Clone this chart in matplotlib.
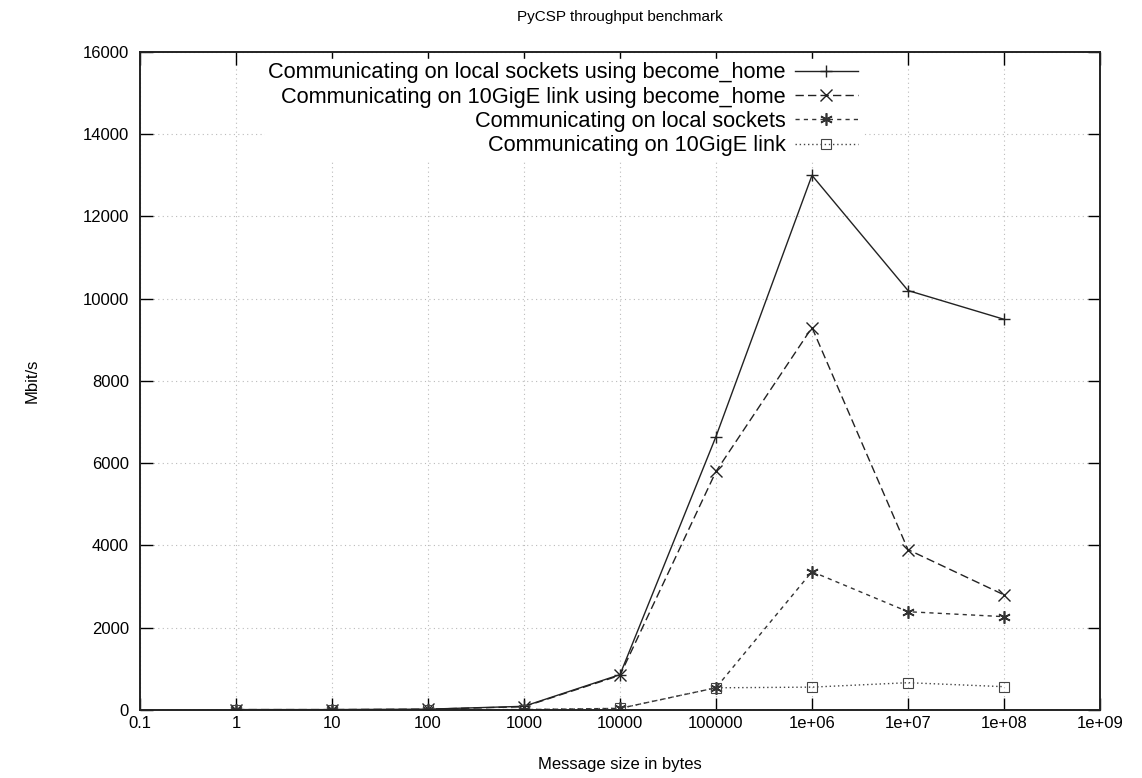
import matplotlib
matplotlib.use("Agg")
import matplotlib.pyplot as plt
from matplotlib.ticker import FixedLocator, FixedFormatter, NullLocator

plt.rcParams['font.family'] = ['Liberation Sans', 'DejaVu Sans']

sizes = [1, 10, 100, 1000, 10000, 100000, 1e6, 1e7, 1e8]
local_become_home = [10, 10, 20, 90, 860, 6650, 13000, 10200, 9500]
gige_become_home = [10, 10, 20, 80, 843, 5800, 9300, 3900, 2800]
local_sockets = [5, 5, 5, 10, 40, 540, 3365, 2390, 2270]
gige_link = [5, 5, 5, 10, 40, 540, 556, 664, 567]

labels = [
    "Communicating on local sockets using become_home",
    "Communicating on 10GigE link using become_home",
    "Communicating on local sockets",
    "Communicating on 10GigE link",
]

x_ticks = [0.1, 1, 10, 100, 1000, 10000, 100000, 1e6, 1e7, 1e8, 1e9]
x_tick_labels = ["0.1", "1", "10", "100", "1000", "10000", "100000",
                 "1e+06", "1e+07", "1e+08", "1e+09"]
y_ticks = [0, 2000, 4000, 6000, 8000, 10000, 12000, 14000, 16000]

fig = plt.figure(figsize=(11.42, 7.78), dpi=100)
ax = fig.add_axes([0.1226, 0.0874, 0.9632 - 0.1226, 0.9332 - 0.0874])

ax.plot(sizes, local_become_home, color='#222222', lw=1.0, ls='-',
        marker='+', ms=9, mew=1.0, label=labels[0])
ax.plot(sizes, gige_become_home, color='#222222', lw=1.0, ls=(0, (6, 3)),
        marker='x', ms=8, mew=1.0, label=labels[1])
ax.plot(sizes, local_sockets, color='#333333', lw=1.0, ls=(0, (3, 3)),
        marker=(6, 2, 0), ms=9, mew=1.2, label=labels[2])
ax.plot(sizes, gige_link, color='#444444', lw=1.0, ls=(0, (1, 2)),
        marker='s', ms=7, mew=0.8, mfc='none', label=labels[3])

ax.set_xscale('log')
ax.set_xlim(0.1, 1e9)
ax.set_ylim(0, 16000)
ax.xaxis.set_major_locator(FixedLocator(x_ticks))
ax.xaxis.set_major_formatter(FixedFormatter(x_tick_labels))
ax.xaxis.set_minor_locator(NullLocator())
ax.set_yticks(y_ticks)

ax.tick_params(axis='both', which='major', direction='in', length=9, width=1.0,
               top=True, right=True, labelsize=12, pad=8, colors='black')
ax.tick_params(axis='x', pad=4)
ax.grid(True, which='major', color='#bbbbbb', ls=(0, (1, 3)), lw=0.8)
for s in ax.spines.values():
    s.set_linewidth(1.4)
    s.set_color('#222222')

ax.set_xlabel("Message size in bytes", fontsize=12, labelpad=19)
ax.set_ylabel("Mbit/s", fontsize=12, labelpad=31)
ax.set_title("PyCSP throughput benchmark", fontsize=11, pad=22)

leg = ax.legend(loc='upper right', bbox_to_anchor=(0.758, 0.999), markerfirst=False,
                frameon=True, fontsize=15.7, handlelength=2.9, labelspacing=0.15,
                borderaxespad=0.3, handletextpad=0.4, borderpad=0.15)
leg.get_frame().set_facecolor('white')
leg.get_frame().set_edgecolor('white')
leg.get_frame().set_alpha(1.0)
for t in leg.get_texts():
    t.set_ha('right')
leg._legend_box.align = 'right'

fig.savefig("out.png", dpi=100)
